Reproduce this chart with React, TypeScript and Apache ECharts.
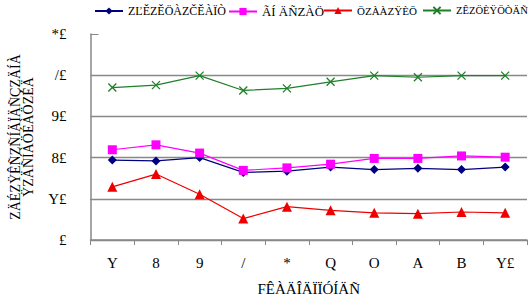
import React, { useEffect, useRef } from "react";
import * as echarts from "echarts";

const categories = ["Y", "8", "9", "/", "*", "Q", "O", "A", "B", "Y£"];
const yTickLabels: Record<number, string> = { 0: "£", 10: "Y£", 20: "8£", 30: "9£", 40: "/£", 50: "*£" };

const seriesNames = ["ZĽĚZĚÖÀZČĚÀÏÒ", "ÃÍ ÄÑZÀÖ", "ÖZÀÀZŸÈÖ", "ZÊZÖÈŸÖÒÄÑ"];
const blueValues = [19.4, 19.2, 20.0, 16.4, 16.7, 17.7, 17.1, 17.4, 17.1, 17.7];
const pinkValues = [21.9, 23.1, 21.1, 16.9, 17.5, 18.4, 19.8, 19.8, 20.4, 20.1];
const redValues = [12.9, 16.0, 11.1, 5.2, 8.1, 7.2, 6.6, 6.4, 6.8, 6.6];
const greenValues = [37.0, 37.6, 39.9, 36.3, 36.8, 38.4, 39.9, 39.5, 39.9, 39.9];

const xAxisTitle = "FÊÀÄÎÄÏÏÓÍÄÑ";
const yAxisTitle = "ZÄÉZŸÊÑZÑÍÄÏÄÑÇZÄÍÀ\nŸZÄÑÍÀÖÉÀÖZÉÄ";

const FONT = "Liberation Serif";
const legendSlots: [number, number][] = [[127, 98], [261, 62], [356, 60], [455, 72]];

function measure(text: string, size: number): number {
  const c = document.createElement("canvas").getContext("2d");
  if (!c) return text.length * size * 0.6;
  c.font = `${size}px "${FONT}"`;
  return c.measureText(text).width;
}

export default function App() {
  const ref = useRef<HTMLDivElement>(null);
  useEffect(() => {
    if (!ref.current) return;
    const chart = echarts.init(ref.current, null, { renderer: "svg" });
    const mk = (name: string, data: number[], color: string, symbol: string, size: number, hollow = false) => ({
      name,
      type: "line",
      data,
      symbol,
      symbolSize: size,
      lineStyle: { color, width: 1.2 },
      itemStyle: hollow
        ? { color: "rgba(0,0,0,0)", borderColor: color, borderWidth: 1.3 }
        : { color, borderWidth: 0 },
    });
    const legends = seriesNames.map((n, i) => {
      const [start, avail] = legendSlots[i];
      const w = measure(n, 14);
      const fs = Math.min(14, Math.floor((14 * avail) / w * 10) / 10);
      return {
        top: 5,
        left: start - 33,
        padding: 0,
        itemWidth: 28,
        itemHeight: 9,
        itemGap: 0,
        textStyle: { fontFamily: FONT, fontSize: fs, color: "#000" },
        data: [n],
      };
    });
    chart.setOption({
      animation: false,
      textStyle: { fontFamily: FONT },
      legend: legends,
      grid: { left: 85, right: 3, top: 34, bottom: 56, containLabel: false },
      xAxis: {
        type: "category",
        data: categories,
        boundaryGap: true,
        axisLine: { lineStyle: { color: "#888", width: 1.5 } },
        axisTick: { show: true, length: 5, lineStyle: { color: "#888" } },
        axisLabel: { fontFamily: FONT, fontSize: 15, color: "#000", margin: 15 },
        name: xAxisTitle,
        nameLocation: "middle",
        nameGap: 41,
        nameTextStyle: { fontFamily: FONT, fontSize: 15, color: "#000" },
      },
      yAxis: {
        type: "value",
        min: 0,
        max: 50,
        interval: 10,
        axisLine: { show: true, lineStyle: { color: "#888", width: 1.5 } },
        axisTick: { show: true, inside: true, length: 8, lineStyle: { color: "#888" } },
        splitLine: {
          show: true,
          lineStyle: { color: ["#888", "#888", "#888", "#888", "#888", "rgba(0,0,0,0)"], width: 1.3 },
        },
        axisLabel: {
          fontFamily: FONT,
          fontSize: 15,
          color: "#000",
          margin: 24,
          formatter: (v: number) => yTickLabels[v] ?? "",
        },
        name: yAxisTitle,
        nameLocation: "middle",
        nameGap: 56,
        nameTextStyle: { fontFamily: FONT, fontSize: 14, color: "#000", lineHeight: 13 },
      },
      series: [
        mk(seriesNames[0], blueValues, "#000080", "diamond", 9),
        mk(seriesNames[1], pinkValues, "#ff00ff", "rect", 9),
        mk(seriesNames[2], redValues, "#ee0000", "triangle", 10),
        mk(seriesNames[3], greenValues, "#1f7f2a", "path://M0 0L10 10M10 0L0 10", 8, true),
      ],
    });
    return () => chart.dispose();
  }, []);
  return <div ref={ref} style={{ width: 530, height: 301, position: "absolute", left: 0, top: 0 }} />;
}
